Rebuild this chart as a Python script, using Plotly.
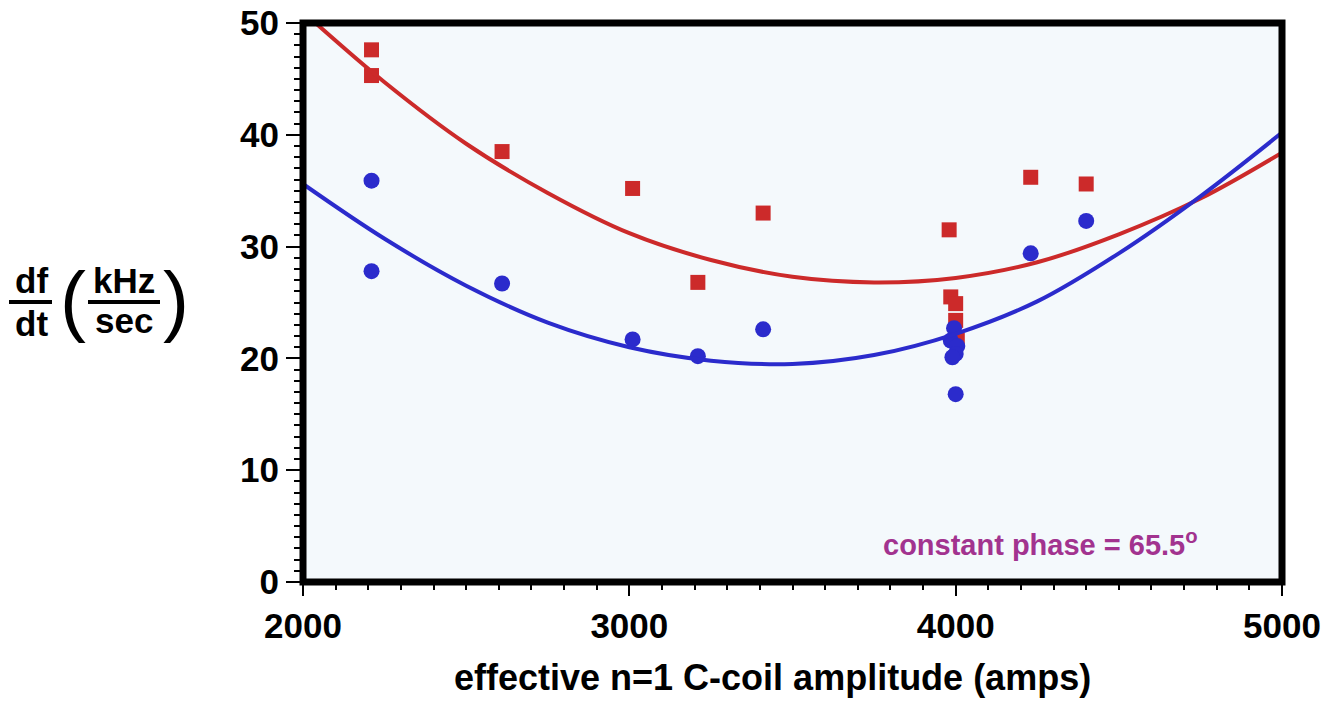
import plotly.graph_objects as go

# ---- data ----
red_x = [2210, 2210, 2610, 3010, 3210, 3410, 3980, 3985, 4000, 4000, 4005, 4230, 4400]
red_y = [47.6, 45.3, 38.5, 35.2, 26.8, 33.0, 31.5, 25.5, 24.9, 23.4, 21.6, 36.2, 35.6]

blue_x = [2210, 2210, 2610, 3010, 3210, 3410, 3995, 3985, 4005, 4000, 3990, 4000, 4230, 4400]
blue_y = [35.9, 27.8, 26.7, 21.7, 20.2, 22.6, 22.7, 21.6, 21.1, 20.4, 20.1, 16.8, 29.4, 32.3]

# fitted curves
red_fit_x = [2000, 2250, 2500, 2750, 3000, 3250, 3500, 3750, 4000, 4250, 4500, 4750, 5000]
red_fit_y = [51.0, 44.7, 39.2, 34.8, 31.2, 28.8, 27.3, 26.8, 27.2, 28.6, 31.1, 34.3, 38.4]

blue_fit_x = [2000, 2250, 2500, 2750, 3000, 3250, 3500, 3750, 4000, 4250, 4500, 4750, 5000]
blue_fit_y = [35.6, 30.7, 26.5, 23.2, 21.0, 19.8, 19.5, 20.3, 22.2, 25.1, 29.4, 34.5, 40.2]

x_ticks = [2000, 3000, 4000, 5000]
y_ticks = [0, 10, 20, 30, 40, 50]

RED = "#CC2A2A"
BLUE = "#2B2BCC"
PURPLE = "#A2338F"
FONT = "Liberation Sans, Arial, Helvetica, sans-serif"

W, H = 1336, 702
ML, MR, MT, MB = 303, 54, 23, 120
PW, PH = W - ML - MR, H - MT - MB


def px(x):
    return (x - ML) / PW


def py(y):
    return (H - MB - y) / PH


fig = go.Figure()
fig.add_trace(go.Scatter(x=red_x, y=red_y, mode="markers",
                         marker=dict(symbol="square", size=15, color=RED), showlegend=False))
fig.add_trace(go.Scatter(x=red_fit_x, y=red_fit_y, mode="lines", line_shape="spline",
                         line=dict(color=RED, width=4), showlegend=False))
fig.add_trace(go.Scatter(x=blue_x, y=blue_y, mode="markers",
                         marker=dict(symbol="circle", size=16, color=BLUE), showlegend=False))
fig.add_trace(go.Scatter(x=blue_fit_x, y=blue_fit_y, mode="lines", line_shape="spline",
                         line=dict(color=BLUE, width=4), showlegend=False))

fig.update_layout(
    width=W, height=H,
    margin=dict(l=ML, r=MR, t=MT, b=MB, pad=0, autoexpand=False),
    paper_bgcolor="white",
    plot_bgcolor="#F4F9FC",
    font=dict(family=FONT, color="black"),
    xaxis=dict(range=[2000, 5000], tickvals=x_ticks, ticktext=[str(v) for v in x_ticks],
               ticks="outside", ticklen=13, tickwidth=2, tickcolor="black",
               minor=dict(dtick=100, ticks="outside", ticklen=7, tickwidth=2, tickcolor="black"),
               showgrid=False, zeroline=False, showline=False, automargin=False,
               tickfont=dict(size=35, weight="bold", family=FONT)),
    yaxis=dict(range=[0, 50], tickvals=y_ticks, ticktext=[str(v) for v in y_ticks],
               ticks="outside", ticklen=16, tickwidth=2, tickcolor="black",
               minor=dict(dtick=1, ticks="outside", ticklen=8, tickwidth=2, tickcolor="black"),
               showgrid=False, zeroline=False, showline=False, automargin=False,
               tickfont=dict(size=35, weight="bold", family=FONT)),
)

# thick frame
fig.add_shape(type="rect", xref="paper", yref="paper", x0=0, x1=1, y0=0, y1=1,
              line=dict(color="black", width=7), layer="above")

# x-axis title
fig.add_annotation(x=px(772), y=py(700), xref="paper", yref="paper",
                   text="effective n=1 C-coil amplitude (amps)", showarrow=False,
                   font=dict(size=36, weight="bold", family=FONT, color="black"),
                   xanchor="center", yanchor="bottom")

# y-axis label as a fraction
bold = dict(family=FONT, size=35, color="black", weight="bold")
fig.add_annotation(x=px(31), y=py(280), xref="paper", yref="paper", text="df",
                   showarrow=False, font=bold, xanchor="center", yanchor="middle")
fig.add_annotation(x=px(31), y=py(323), xref="paper", yref="paper", text="dt",
                   showarrow=False, font=bold, xanchor="center", yanchor="middle")
fig.add_annotation(x=px(124), y=py(280), xref="paper", yref="paper", text="kHz",
                   showarrow=False, font=bold, xanchor="center", yanchor="middle")
fig.add_annotation(x=px(124), y=py(320), xref="paper", yref="paper", text="sec",
                   showarrow=False, font=bold, xanchor="center", yanchor="middle")
fig.add_shape(type="line", xref="paper", yref="paper", x0=px(9), x1=px(52), y0=py(302), y1=py(302),
              line=dict(color="black", width=4))
fig.add_shape(type="line", xref="paper", yref="paper", x0=px(88), x1=px(160), y0=py(302), y1=py(302),
              line=dict(color="black", width=4))
paren = dict(family=FONT, size=78, color="black")
fig.add_annotation(x=px(73), y=py(300), xref="paper", yref="paper", text="(",
                   showarrow=False, font=paren, xanchor="center", yanchor="middle")
fig.add_annotation(x=px(176), y=py(300), xref="paper", yref="paper", text=")",
                   showarrow=False, font=paren, xanchor="center", yanchor="middle")

# note
fig.add_annotation(x=px(1040), y=py(543), xref="paper", yref="paper",
                   text="constant phase = 65.5<sup>o</sup>", showarrow=False,
                   font=dict(family=FONT, size=29, color=PURPLE, weight="bold"),
                   xanchor="center", yanchor="middle")

fig.write_html("out.html")
